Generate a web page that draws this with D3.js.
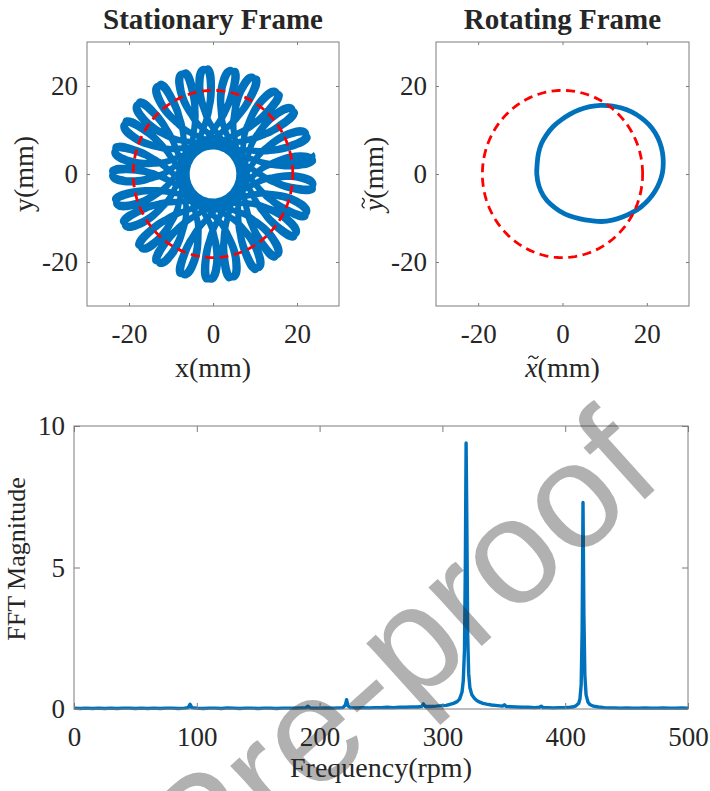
<!DOCTYPE html>
<html>
<head>
<meta charset="utf-8">
<script src="https://cdn.jsdelivr.net/npm/d3@7"></script>
<style>
  body { margin: 0; background: #fff; }
  svg { display: block; }
  text { font-family: "Liberation Serif", "Times New Roman", serif; fill: #262626; }
</style>
</head>
<body>
<svg id="fig" width="710" height="791"></svg>
<script>
// ---- Whirl orbit in the rotating frame (mm), one revolution of the orbit ----
const orbitX = [23.9, 23.7, 23.1, 22.0, 20.5, 18.6, 16.4, 14.0, 11.5, 9.0, 6.5, 4.0,
                1.8, -0.3, -2.2, -3.8, -5.0, -5.7, -6.0, -6.1, -5.6, -4.5, -2.8, -0.7,
                1.6, 4.2, 6.8, 9.3, 11.8, 14.2, 16.5, 18.6, 20.4, 21.9, 23.0, 23.7];
const orbitY = [2.6, 4.9, 7.1, 9.3, 11.2, 12.8, 14.1, 15.0, 15.5, 15.6, 15.3, 14.6,
                13.6, 12.3, 10.8, 8.9, 6.9, 4.7, 2.4, 0.0, -2.7, -5.0, -6.9, -8.4,
                -9.5, -10.2, -10.6, -10.8, -10.5, -9.8, -8.8, -7.5, -5.9, -4.0, -1.9, 0.3];

// frame advance per orbit cycle (deg) between successive petal tips, and recorded cycles
const petalAdvanceDeg = 230.5;
const orbitCycles = 50;
// reference clearance circle radius (mm)
const refRadius = 19;

// ---- FFT spectrum ----
const fftFreq = [0,5,10,15,20,25,30,35,40,45,50,55,60,65,70,75,80,85,90,93,94.5,96,
  100,105,110,115,120,125,130,135,140,145,150,155,160,165,170,175,180,185,189,190.5,192,196,
  200,205,210,215,219,221,222,223,225,230,235,240,245,250,255,260,265,270,275,280,283,284.5,286,290,295,
  300,303,306,309,312,314,316,317,318,318.7,319.3,319.9,320.6,321.4,322.4,324,326,328,330,333,336,340,345,349,350.5,352,356,
  360,365,370,375,379,380.5,382,386,390,395,400,404,407,409,411,412,413,413.8,414.5,415.2,416,417,418.5,420,423,427,432,436,
  440,445,450,455,460,465,470,475,480,485,490,495,500];
const fftMag = [0.03,0.02,0.03,0.02,0.03,0.02,0.03,0.02,0.03,0.03,0.02,0.03,0.02,0.03,0.02,0.03,0.03,0.02,0.03,0.05,0.17,0.05,
  0.03,0.02,0.03,0.03,0.02,0.04,0.03,0.02,0.03,0.03,0.02,0.03,0.03,0.02,0.03,0.03,0.03,0.04,0.05,0.10,0.04,0.03,
  0.03,0.04,0.03,0.04,0.05,0.14,0.33,0.12,0.05,0.04,0.05,0.04,0.05,0.05,0.06,0.05,0.06,0.06,0.07,0.07,0.09,0.18,0.09,0.09,0.10,
  0.12,0.13,0.16,0.20,0.26,0.35,0.60,1.0,2.1,5.2,9.4,6.6,2.6,1.25,0.75,0.50,0.38,0.30,0.25,0.20,0.17,0.14,0.12,0.10,0.15,0.09,0.08,
  0.07,0.06,0.06,0.05,0.06,0.10,0.05,0.05,0.04,0.05,0.05,0.06,0.08,0.12,0.20,0.35,0.85,2.8,7.3,3.4,1.2,0.50,0.25,0.16,0.10,0.07,0.05,0.04,
  0.04,0.03,0.04,0.03,0.03,0.04,0.03,0.03,0.04,0.03,0.03,0.04,0.03];

// ---- tick values ----
const posTicks = [-20, 0, 20];
const freqTicks = [0, 100, 200, 300, 400, 500];
const magTicks = [0, 5, 10];

const BLUE = "#0072BD";
const RED = "#FF0000";
const AXIS = "#7d7d7d";
const svg = d3.select("#fig");

// draws a boxed axes with inward ticks on all four sides
function boxAxes(x, y, xt, yt, tickLen, padX, padY) {
  const g = svg.append("g");
  const [x0, x1] = x.range(), [y0, y1] = y.range();
  const fmt = d => String(d);
  const style = sel => {
    sel.select(".domain").remove();
    sel.selectAll(".tick line").attr("stroke", AXIS);
    sel.selectAll(".tick text").attr("fill", "#262626").style("font-size", "27px")
       .style("font-family", '"Liberation Serif", serif');
  };
  g.append("g").attr("transform", `translate(0,${y0})`)
    .call(d3.axisBottom(x).tickValues(xt).tickSizeInner(-tickLen).tickSizeOuter(0).tickPadding(padX).tickFormat(fmt))
    .call(style);
  g.append("g").attr("transform", `translate(0,${y1})`)
    .call(d3.axisTop(x).tickValues(xt).tickSizeInner(-tickLen).tickSizeOuter(0).tickFormat(""))
    .call(style);
  g.append("g").attr("transform", `translate(${x0},0)`)
    .call(d3.axisLeft(y).tickValues(yt).tickSizeInner(-tickLen).tickSizeOuter(0).tickPadding(padY).tickFormat(fmt))
    .call(style);
  g.append("g").attr("transform", `translate(${x1},0)`)
    .call(d3.axisRight(y).tickValues(yt).tickSizeInner(-tickLen).tickSizeOuter(0).tickFormat(""))
    .call(style);
  g.append("rect").attr("x", x0).attr("y", y1).attr("width", x1 - x0).attr("height", y0 - y1)
    .attr("fill", "none").attr("stroke", AXIS).attr("stroke-width", 1);
  return g;
}

// reference circle traced through the panel scales
function refCircle(layer, x, y) {
  const pts = d3.range(0, 361, 3).map(a => [refRadius * Math.cos(a * Math.PI / 180), refRadius * Math.sin(a * Math.PI / 180)]);
  layer.append("path")
    .attr("d", d3.line().x(d => x(d[0])).y(d => y(d[1]))(pts))
    .attr("fill", "none").attr("stroke", RED).attr("stroke-width", 2.8)
    .attr("stroke-dasharray", "9,5.5");
}

// ---------- Stationary frame ----------
const xs1 = d3.scaleLinear().domain([-30, 30]).range([87, 339]);
const ys1 = d3.scaleLinear().domain([-30, 30]).range([306, 42]);

// stationary path: orbit points carried round by the rotating frame
const nOrb = orbitX.length;
const frameStep = petalAdvanceDeg * Math.PI / 180 / nOrb;
const stationary = d3.range(orbitCycles * nOrb + 1).map(k => {
  const i = ((-k % nOrb) + nOrb) % nOrb;
  const th = k * frameStep;
  const c = Math.cos(th), s = Math.sin(th);
  return [orbitX[i] * c - orbitY[i] * s, orbitX[i] * s + orbitY[i] * c];
});

const p1 = svg.append("g");
p1.append("path")
  .attr("d", d3.line().x(d => xs1(d[0])).y(d => ys1(d[1])).curve(d3.curveCatmullRom)(stationary))
  .attr("fill", "none").attr("stroke", BLUE).attr("stroke-width", 4.5)
  .attr("stroke-linejoin", "round");
refCircle(p1, xs1, ys1);
boxAxes(xs1, ys1, posTicks, posTicks, 3, 18, 9);

svg.append("text").attr("x", 213).attr("y", 29).attr("text-anchor", "middle")
  .style("font-size", "29px").style("font-weight", "bold").attr("fill", "#000").text("Stationary Frame");
svg.append("text").attr("x", 213).attr("y", 377).attr("text-anchor", "middle")
  .style("font-size", "28px").text("x(mm)");
svg.append("text").attr("transform", "translate(33,174) rotate(-90)").attr("text-anchor", "middle")
  .style("font-size", "28px").text("y(mm)");

// ---------- Rotating frame ----------
const xs2 = d3.scaleLinear().domain([-30, 30]).range([436, 689]);
const ys2 = d3.scaleLinear().domain([-30, 30]).range([306, 42]);
const orbit = orbitX.map((v, i) => [v, orbitY[i]]);

const p2 = svg.append("g");
p2.append("path")
  .attr("d", d3.line().x(d => xs2(d[0])).y(d => ys2(d[1])).curve(d3.curveCatmullRomClosed)(orbit))
  .attr("fill", "none").attr("stroke", BLUE).attr("stroke-width", 4.8)
  .attr("stroke-linejoin", "round");
refCircle(p2, xs2, ys2);
boxAxes(xs2, ys2, posTicks, posTicks, 3, 18, 9);

svg.append("text").attr("x", 562.5).attr("y", 29).attr("text-anchor", "middle")
  .style("font-size", "29px").style("font-weight", "bold").attr("fill", "#000").text("Rotating Frame");

// label with a tilde accent (drawn as a small wave) over the italic symbol
function tildeLabel(transform, sym) {
  const g = svg.append("g").attr("transform", transform);
  const t = g.append("text").attr("text-anchor", "middle").style("font-size", "28px");
  t.append("tspan").style("font-style", "italic").text(sym);
  t.append("tspan").text("(mm)");
  const node = t.node();
  const a = node.getStartPositionOfChar(0).x, b = node.getEndPositionOfChar(0).x;
  const cx = (a + b) / 2 + 2;
  g.append("path")
    .attr("d", `M${cx - 5},-18.5 C${cx - 3.5},-21.5 ${cx - 1.5},-21.5 ${cx},-19.8 S${cx + 3.5},-18 ${cx + 5},-21`)
    .attr("fill", "none").attr("stroke", "#262626").attr("stroke-width", 1.3);
}
tildeLabel("translate(562.5,377)", "x");
tildeLabel("translate(383,174) rotate(-90)", "y");

// ---------- FFT spectrum ----------
const xs3 = d3.scaleLinear().domain([0, 500]).range([74, 688]);
const ys3 = d3.scaleLinear().domain([0, 10]).range([709, 426]);
const spectrum = fftFreq.map((f, i) => [f, fftMag[i]]);

svg.append("path")
  .attr("d", d3.line().x(d => xs3(d[0])).y(d => ys3(d[1]))(spectrum))
  .attr("fill", "none").attr("stroke", BLUE).attr("stroke-width", 3.4)
  .attr("stroke-linejoin", "round");
boxAxes(xs3, ys3, freqTicks, magTicks, 6, 18, 9);

svg.append("text").attr("x", 381).attr("y", 777).attr("text-anchor", "middle")
  .style("font-size", "28px").text("Frequency(rpm)");
svg.append("text").attr("transform", "translate(25,559) rotate(-90)").attr("text-anchor", "middle")
  .style("font-size", "26px").text("FFT Magnitude");

// ---------- watermark ----------
svg.append("text")
  .attr("transform", "translate(666,480) rotate(-42)")
  .attr("text-anchor", "end")
  .style("font-family", '"Liberation Sans", Arial, sans-serif')
  .style("font-size", "150px")
  .attr("fill", "#808080").attr("fill-opacity", 0.36)
  .text("Journal Pre-proof");
</script>
</body>
</html>
